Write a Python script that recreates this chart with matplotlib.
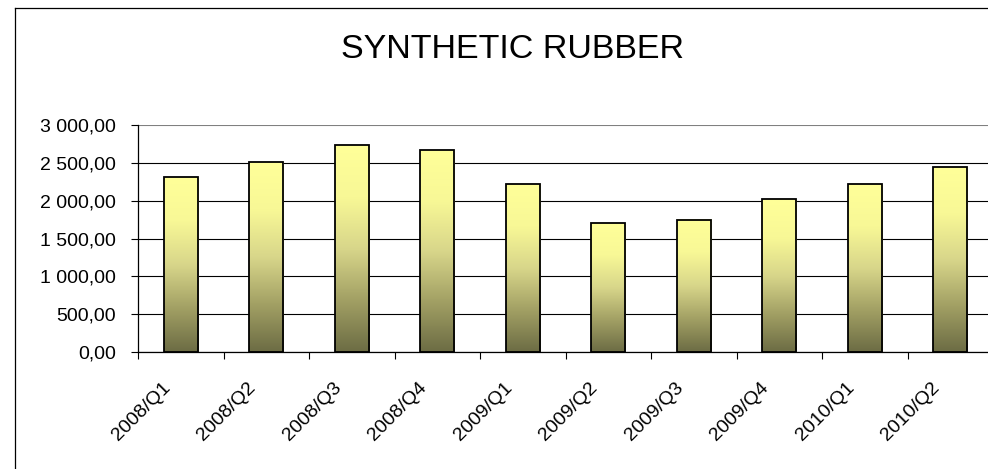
import numpy as np
import matplotlib
matplotlib.use('Agg')
import matplotlib.pyplot as plt
from matplotlib.colors import LinearSegmentedColormap
from matplotlib.lines import Line2D
from matplotlib.ticker import FuncFormatter, FixedLocator
from matplotlib.transforms import ScaledTranslation

# Du lieu doc tu bieu do goc
quy = ['2008/Q1', '2008/Q2', '2008/Q3', '2008/Q4', '2009/Q1',
       '2009/Q2', '2009/Q3', '2009/Q4', '2010/Q1', '2010/Q2']
gia_tri = [2310, 2510, 2735, 2665, 2215, 1700, 1750, 2020, 2215, 2440]
tieu_de = 'SYNTHETIC RUBBER'

plt.rcParams['font.family'] = ['Liberation Sans', 'DejaVu Sans']

W, H = 988, 469
fig = plt.figure(figsize=(W / 100, H / 100), dpi=100)
fig.patch.set_facecolor('white')

# Vung ve tinh theo pixel cua anh goc
trai, phai, tren, duoi = 138, 993, 125, 352
ax = fig.add_axes([trai / W, 1 - duoi / H, (phai - trai) / W, (duoi - tren) / H])

# Mau gradient cho cot: duoi o liu -> tren vang nhat
cmap = LinearSegmentedColormap.from_list(
    'olive', ['#6c6c44', '#a2a064', '#d8d68a', '#f8f896', '#ffff99'])
grad = np.linspace(0, 1, 256).reshape(-1, 1)

rong = 0.4
bars = ax.bar(range(len(quy)), gia_tri, width=rong, color='none',
              edgecolor='black', linewidth=1.3, zorder=3)
for b in bars:
    x0, y0 = b.get_x(), b.get_y()
    w, h = b.get_width(), b.get_height()
    ax.imshow(grad, cmap=cmap, aspect='auto', origin='lower',
              extent=(x0, x0 + w, y0, y0 + h), zorder=2,
              interpolation='bilinear')

ax.set_xlim(-0.5, len(quy) - 0.5)
ax.set_ylim(0, 3000)

# Luoi ngang
ax.set_yticks(np.arange(0, 3001, 500))
ax.yaxis.grid(True, color='black', linewidth=0.8)
ax.set_axisbelow(True)
ax.get_ygridlines()[-1].set_color('#808080')


def dinh_dang(v, pos):
    s = '{:,.2f}'.format(v)
    return s.replace(',', ' ').replace('.', ',')


ax.yaxis.set_major_formatter(FuncFormatter(dinh_dang))
ax.tick_params(axis='y', length=5, width=0.8, labelsize=14, pad=11,
               colors='black')

# Truc x: vach o ranh gioi, nhan o giua
ax.xaxis.set_major_locator(FixedLocator(np.arange(-0.5, len(quy), 1.0)))
ax.xaxis.set_minor_locator(FixedLocator(np.arange(len(quy))))
ax.tick_params(axis='x', which='major', length=5, width=0.8, labelbottom=False)
ax.tick_params(axis='x', which='minor', length=0, pad=24)
ax.set_xticklabels(quy, minor=True, rotation=45, ha='right', va='center',
                   rotation_mode='anchor', fontsize=14)
dich = ScaledTranslation(-13 / 100, 0, fig.dpi_scale_trans)
for lab in ax.get_xticklabels(minor=True):
    lab.set_transform(lab.get_transform() + dich)

for s in ['top', 'right']:
    ax.spines[s].set_visible(False)
ax.spines['left'].set_linewidth(0.9)
ax.spines['bottom'].set_linewidth(0.9)

# Tieu de
fig.text(512 / W, 1 - 49 / H, tieu_de, ha='center', va='center', fontsize=24.5)

# Khung vien bieu do
fig.add_artist(Line2D([15 / W, 15 / W], [1 - 8 / H, 0], color='black', linewidth=0.9,
                      transform=fig.transFigure))
fig.add_artist(Line2D([15 / W, 1], [1 - 8 / H, 1 - 8 / H], color='black', linewidth=0.9,
                      transform=fig.transFigure))

fig.savefig('out.png', dpi=100)
